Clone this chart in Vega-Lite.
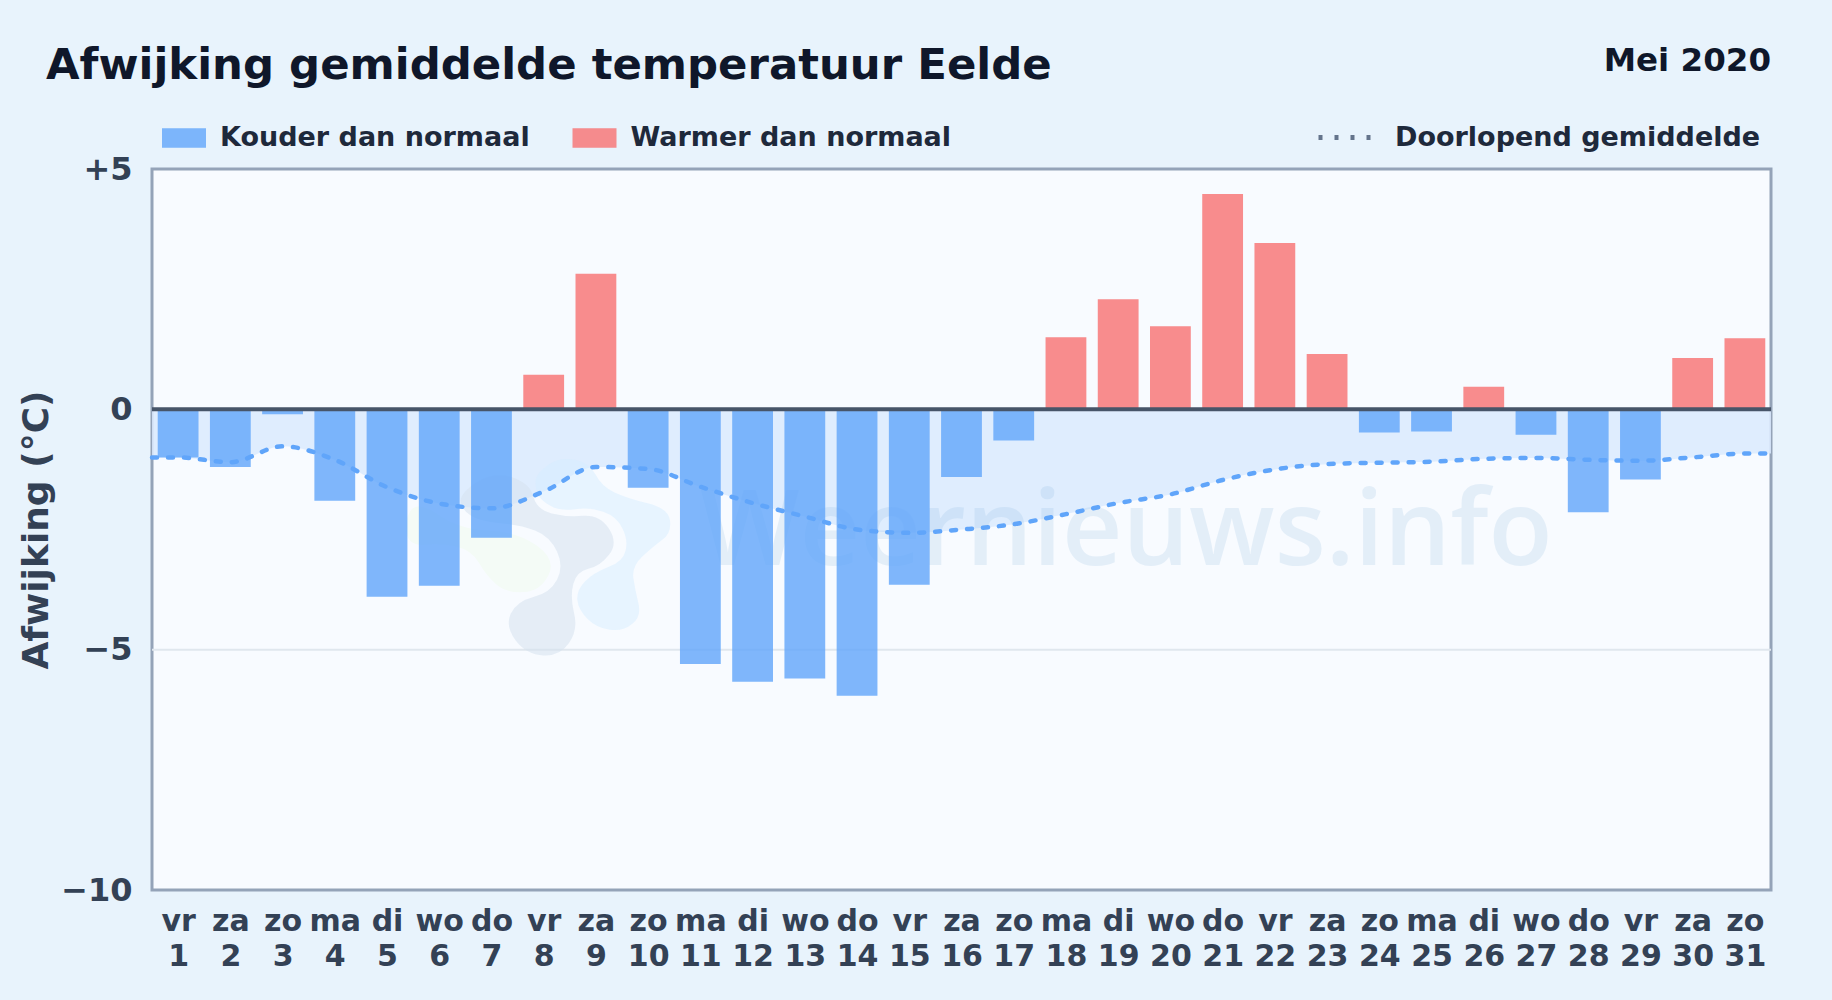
{
"$schema":"https://vega.github.io/schema/vega-lite/v6.json",
"width":1619,"height":721,
"autosize":{"type":"none"},
"padding":{"left":152,"top":169,"right":61,"bottom":110},
"background":"#e8f3fc",
"view":{"fill":"#f8fbff","stroke":"#94a3b8","strokeWidth":3},
"title":{"text":"Afwijking gemiddelde temperatuur Eelde","anchor":"start","frame":"group","dx":-106,"offset":-77,"baseline":"alphabetic","font":"DejaVu Sans","fontWeight":"bold","fontSize":43.4,"color":"#0f172a"},
"datasets":{
"een":[{}],
"dagen":[
{"dag":1,"afw":-1.0,"soort":"Kouder dan normaal"},{"dag":2,"afw":-1.2,"soort":"Kouder dan normaal"},{"dag":3,"afw":-0.1,"soort":"Kouder dan normaal"},{"dag":4,"afw":-1.9,"soort":"Kouder dan normaal"},{"dag":5,"afw":-3.9,"soort":"Kouder dan normaal"},{"dag":6,"afw":-3.67,"soort":"Kouder dan normaal"},{"dag":7,"afw":-2.67,"soort":"Kouder dan normaal"},{"dag":8,"afw":0.72,"soort":"Warmer dan normaal"},{"dag":9,"afw":2.82,"soort":"Warmer dan normaal"},{"dag":10,"afw":-1.63,"soort":"Kouder dan normaal"},{"dag":11,"afw":-5.3,"soort":"Kouder dan normaal"},{"dag":12,"afw":-5.67,"soort":"Kouder dan normaal"},{"dag":13,"afw":-5.6,"soort":"Kouder dan normaal"},{"dag":14,"afw":-5.96,"soort":"Kouder dan normaal"},{"dag":15,"afw":-3.65,"soort":"Kouder dan normaal"},{"dag":16,"afw":-1.41,"soort":"Kouder dan normaal"},{"dag":17,"afw":-0.65,"soort":"Kouder dan normaal"},{"dag":18,"afw":1.5,"soort":"Warmer dan normaal"},{"dag":19,"afw":2.29,"soort":"Warmer dan normaal"},{"dag":20,"afw":1.73,"soort":"Warmer dan normaal"},{"dag":21,"afw":4.48,"soort":"Warmer dan normaal"},{"dag":22,"afw":3.46,"soort":"Warmer dan normaal"},{"dag":23,"afw":1.15,"soort":"Warmer dan normaal"},{"dag":24,"afw":-0.48,"soort":"Kouder dan normaal"},{"dag":25,"afw":-0.46,"soort":"Kouder dan normaal"},{"dag":26,"afw":0.47,"soort":"Warmer dan normaal"},{"dag":27,"afw":-0.53,"soort":"Kouder dan normaal"},{"dag":28,"afw":-2.14,"soort":"Kouder dan normaal"},{"dag":29,"afw":-1.46,"soort":"Kouder dan normaal"},{"dag":30,"afw":1.07,"soort":"Warmer dan normaal"},{"dag":31,"afw":1.48,"soort":"Warmer dan normaal"}],
"lopend":[
{"dag":0.5,"gem":-1.0,"reeks":"Doorlopend gemiddelde"},{"dag":1,"gem":-1.0,"reeks":"Doorlopend gemiddelde"},{"dag":2,"gem":-1.1,"reeks":"Doorlopend gemiddelde"},{"dag":3,"gem":-0.77,"reeks":"Doorlopend gemiddelde"},{"dag":4,"gem":-1.05,"reeks":"Doorlopend gemiddelde"},{"dag":5,"gem":-1.62,"reeks":"Doorlopend gemiddelde"},{"dag":6,"gem":-1.96,"reeks":"Doorlopend gemiddelde"},{"dag":7,"gem":-2.06,"reeks":"Doorlopend gemiddelde"},{"dag":8,"gem":-1.71,"reeks":"Doorlopend gemiddelde"},{"dag":9,"gem":-1.2,"reeks":"Doorlopend gemiddelde"},{"dag":10,"gem":-1.24,"reeks":"Doorlopend gemiddelde"},{"dag":11,"gem":-1.61,"reeks":"Doorlopend gemiddelde"},{"dag":12,"gem":-1.95,"reeks":"Doorlopend gemiddelde"},{"dag":13,"gem":-2.23,"reeks":"Doorlopend gemiddelde"},{"dag":14,"gem":-2.5,"reeks":"Doorlopend gemiddelde"},{"dag":15,"gem":-2.57,"reeks":"Doorlopend gemiddelde"},{"dag":16,"gem":-2.5,"reeks":"Doorlopend gemiddelde"},{"dag":17,"gem":-2.39,"reeks":"Doorlopend gemiddelde"},{"dag":18,"gem":-2.18,"reeks":"Doorlopend gemiddelde"},{"dag":19,"gem":-1.95,"reeks":"Doorlopend gemiddelde"},{"dag":20,"gem":-1.77,"reeks":"Doorlopend gemiddelde"},{"dag":21,"gem":-1.47,"reeks":"Doorlopend gemiddelde"},{"dag":22,"gem":-1.25,"reeks":"Doorlopend gemiddelde"},{"dag":23,"gem":-1.14,"reeks":"Doorlopend gemiddelde"},{"dag":24,"gem":-1.11,"reeks":"Doorlopend gemiddelde"},{"dag":25,"gem":-1.09,"reeks":"Doorlopend gemiddelde"},{"dag":26,"gem":-1.03,"reeks":"Doorlopend gemiddelde"},{"dag":27,"gem":-1.01,"reeks":"Doorlopend gemiddelde"},{"dag":28,"gem":-1.05,"reeks":"Doorlopend gemiddelde"},{"dag":29,"gem":-1.07,"reeks":"Doorlopend gemiddelde"},{"dag":30,"gem":-1.0,"reeks":"Doorlopend gemiddelde"},{"dag":31,"gem":-0.92,"reeks":"Doorlopend gemiddelde"},{"dag":31.5,"gem":-0.92,"reeks":"Doorlopend gemiddelde"}]
},
"layer":[
{"data":{"name":"een"},"mark":{"type":"rule","stroke":"#e0e7ee","strokeWidth":2},
 "encoding":{
  "x":{"datum":0.5,"type":"quantitative","scale":{"domain":[0.5,31.5],"nice":false,"zero":false,"padding":0},
   "axis":{"values":[1,2,3,4,5,6,7,8,9,10,11,12,13,14,15,16,17,18,19,20,21,22,23,24,25,26,27,28,29,30,31],"title":null,"domain":false,"ticks":false,"grid":false,"labelFont":"DejaVu Sans","labelFontWeight":"bold","labelFontSize":30,"labelColor":"#334155","labelPadding":16,"labelLineHeight":35,"labelBaseline":"top","labelBound":false,"labelFlush":false,"labelOverlap":false,
   "labelExpr":"[['vr','za','zo','ma','di','wo','do'][(datum.value-1)%7],''+datum.value]"}},
  "x2":{"datum":31.5},
  "y":{"datum":-5,"type":"quantitative","scale":{"domain":[-10,5],"nice":false,"zero":false},
   "axis":{"values":[5,0,-5,-10],"title":"Afwijking (°C)","titleFont":"DejaVu Sans","titleFontWeight":"bold","titleFontSize":36,"titleColor":"#334155","titleX":-97,"domain":false,"ticks":false,"grid":false,"labelFont":"DejaVu Sans","labelFontWeight":"bold","labelFontSize":32,"labelColor":"#334155","labelPadding":20,"labelBound":false,"labelFlush":false,
   "labelExpr":"datum.value>0?'+'+datum.value:datum.value<0?'−'+abs(datum.value):'0'"}}
 }},
{"data":{"name":"lopend"},
 "mark":{"type":"area","interpolate":"monotone","color":"#dbeafe","opacity":0.85},
 "encoding":{
  "x":{"field":"dag","type":"quantitative"},
  "y":{"field":"gem","type":"quantitative"},
  "y2":{"datum":0}
 }},
{"data":{"name":"een"},"mark":{"type":"point","filled":true,"size":0.444,"opacity":1,"color":"#f4fbf6","shape":"M150,245Q170,210 235,255Q300,300 385,302Q470,305 530,347Q590,390 565,437Q540,485 490,487Q440,490 410,465Q380,440 357,400Q335,360 287,350Q240,340 195,345Q150,350 140,315Q130,280 150,245Z"},
 "encoding":{"x":{"datum":4.485,"type":"quantitative"},"y":{"datum":-0.427,"type":"quantitative"}}},
{"data":{"name":"een"},"mark":{"type":"point","filled":true,"size":0.444,"opacity":0.55,"color":"#d6e2ef","shape":"M302,215Q300,190 350,157Q400,125 455,142Q510,160 520,200Q530,240 575,251Q620,262 670,258Q720,255 747,297Q775,340 747,375Q720,410 685,417Q650,425 640,462Q630,500 642,550Q655,600 627,640Q600,680 550,677Q500,675 467,632Q435,590 452,552Q470,515 520,502Q570,490 591,450Q612,410 591,365Q570,320 525,302Q480,285 420,280Q360,275 332,257Q305,240 302,215Z"},
 "encoding":{"x":{"datum":4.485,"type":"quantitative"},"y":{"datum":-0.427,"type":"quantitative"}}},
{"data":{"name":"een"},"mark":{"type":"point","filled":true,"size":0.444,"opacity":0.5,"color":"#d5edff","shape":"M527,150Q530,130 565,105Q600,80 645,90Q690,100 707,135Q725,170 762,187Q800,205 862,220Q925,235 930,272Q935,310 907,330Q880,350 847,380Q815,410 820,445Q825,480 835,520Q845,560 817,582Q790,605 750,600Q710,595 682,567Q655,540 652,510Q650,480 675,455Q700,430 745,412Q790,395 797,362Q805,330 787,295Q770,260 730,246Q690,232 645,238Q600,245 570,227Q540,210 532,190Q525,170 527,150Z"},
 "encoding":{"x":{"datum":4.485,"type":"quantitative"},"y":{"datum":-0.427,"type":"quantitative"}}},
{"data":{"name":"een"},"mark":{"type":"text","text":"Weernieuws.info","align":"left","baseline":"alphabetic","font":"Open Sans","fontWeight":600,"fontSize":105,"color":"#7fb2dc","opacity":0.17},
 "encoding":{"x":{"datum":11,"type":"quantitative"},"y":{"datum":-3.23,"type":"quantitative"}}},
{"data":{"name":"dagen"},
 "mark":{"type":"bar","width":40.8,"opacity":0.8,"orient":"vertical"},
 "encoding":{
  "x":{"field":"dag","type":"quantitative"},
  "y":{"field":"afw","type":"quantitative"},
  "fill":{"field":"soort","type":"nominal","scale":{"domain":["Kouder dan normaal","Warmer dan normaal"],"range":["#60a5fa","#f87171"]},
   "legend":{"orient":"none","legendX":10,"legendY":-53,"direction":"horizontal","columns":2,"title":null,"symbolType":"M-1,-0.44H1V0.44H-1Z","symbolSize":1936,"symbolOpacity":0.8,"symbolStrokeWidth":0,"labelFont":"DejaVu Sans","labelFontWeight":"bold","labelFontSize":27,"labelColor":"#1e293b","labelOffset":14,"columnPadding":42.5,"labelLimit":400}}
 }},
{"data":{"name":"lopend"},
 "mark":{"type":"line","interpolate":"monotone","strokeWidth":4,"strokeDash":[5,11],"strokeCap":"round","opacity":0},
 "encoding":{
  "x":{"field":"dag","type":"quantitative"},
  "y":{"field":"gem","type":"quantitative"},
  "stroke":{"field":"reeks","type":"nominal","scale":{"range":["#64748b"]},
   "legend":{"orient":"none","legendX":1164,"legendY":-61,"title":null,"symbolType":"stroke","symbolSize":2916,"symbolStrokeWidth":5,"symbolDash":[4,12],"symbolOpacity":1,"labelFont":"DejaVu Sans","labelFontWeight":"bold","labelFontSize":27,"labelColor":"#1e293b","labelOffset":20,"labelLimit":500}}
 }},
{"data":{"name":"lopend"},
 "mark":{"type":"line","interpolate":"monotone","stroke":"#60a5fa","strokeWidth":4.5,"strokeDash":[5,11],"strokeCap":"round"},
 "encoding":{
  "x":{"field":"dag","type":"quantitative"},
  "y":{"field":"gem","type":"quantitative"}
 }},
{"data":{"name":"een"},"mark":{"type":"rule","stroke":"#475569","strokeWidth":4},"encoding":{"y":{"datum":0,"type":"quantitative"}}},
{"data":{"name":"een"},"mark":{"type":"text","text":"Mei 2020","align":"right","baseline":"alphabetic","font":"DejaVu Sans","fontWeight":"bold","fontSize":32.5,"color":"#0f172a"},
 "encoding":{"x":{"datum":31.5,"type":"quantitative"},"y":{"datum":7.03,"type":"quantitative"}}}
]
}
